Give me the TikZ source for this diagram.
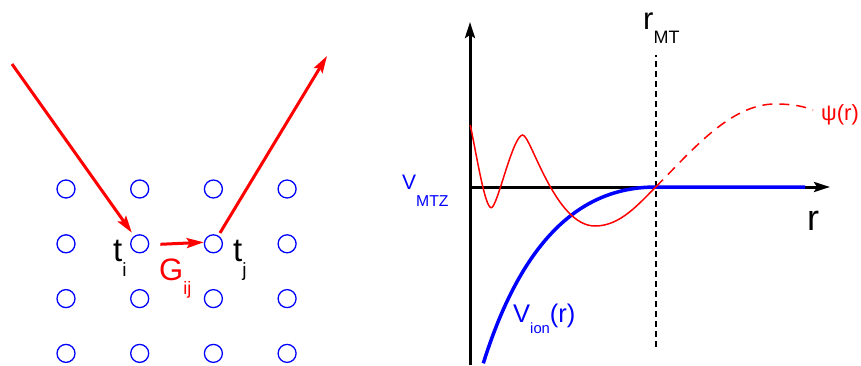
\documentclass[tikz,border=0pt]{standalone}
\usepackage{fontspec}
\setmainfont{Liberation Sans}
\usetikzlibrary{arrows.meta, positioning, calc}
\newcommand{\lowsubx}[3]{\raisebox{-#1}{\scalebox{#2}{#3}}}
\newcommand{\lowsub}[1]{\lowsubx{0.45em}{0.58}{#1}}
\tikzset{
	site/.style    ={circle, draw=blue, line width=1.3pt, minimum size=18pt, inner sep=0pt},
	hop/.style     ={red, line width=3pt, -{Stealth[length=17pt, width=10pt, inset=3pt]}},
	axis/.style    ={black, line width=3pt, -{Stealth[length=16pt, width=10pt, inset=3pt]}},
	pot/.style     ={blue, line width=3.5pt},
	wave/.style    ={red, line width=1.5pt},
	rmt/.style     ={black, line width=1.2pt, dash pattern=on 6pt off 4pt},
	lbl/.style     ={inner sep=0pt, anchor=base west},
}

\begin{document}
\begin{tikzpicture}[x=1pt, y=1pt]
	\useasboundingbox (0,0) rectangle (861,365);
	% lattice of scattering sites
	\foreach \i in {1,...,4}
		\foreach \j in {1,...,4}
			\node[site] (s\i\j) at ({66+73.7*(\i-1)}, {176-54.8*(\j-1)}) {};
	\coordinate (entry) at (12,301);
	\coordinate (exit) at (327,309);
	\draw[hop, shorten >=4pt] (entry) -- (s22);
	\draw[hop, shorten <=11pt] ([yshift=-1pt]s22.east) -- ([yshift=1.5pt]s32.west);
	\draw[hop, shorten <=3pt] (s32) -- (exit);
	\node[lbl, font=\fontsize{33}{33}\selectfont] (ti) at (113,103.3) {t\lowsub{i}};
	\node[lbl, font=\fontsize{33}{33}\selectfont] (tj) at (233,103.3) {t\lowsub{j}};
	\node[lbl, red, font=\fontsize{31}{31}\selectfont] (gij) at (159,84.3) {G\lowsub{ij}};
	% muffin-tin potential and radial function
	\draw[rmt] (656,18) -- (656,310);
	\draw[axis] (470,0) -- (470,343);
	\draw[axis] (470,178) -- (830,178);
	\draw[pot] (483.3,1.7) .. controls (528.3,145.7) and (596,178) .. (656,178) -- (805,178);
	\draw[wave] (470.3,240) .. controls (478.3,200) and (485.3,157.3) .. (491.3,157.3)
		.. controls (497.3,157.3) and (512.7,230) .. (522.7,230)
		.. controls (530.7,230) and (555,139) .. (595,139)
		.. controls (620,139) and (638,160.3) .. (656,178.3);
	\draw[wave, dash pattern=on 10pt off 7pt] (656,178.3) .. controls (691,213.3) and (730,261) .. (775,261)
		.. controls (795,261) and (805,258) .. (813,255);
	\node[lbl, font=\fontsize{31}{31}\selectfont] (rmtlabel) at (643,335.7) {r\lowsub{MT}};
	\node[lbl, font=\fontsize{36}{36}\selectfont] (rlabel) at (807,134.3) {r};
	\node[lbl, blue, font=\fontsize{21}{21}\selectfont] (vmtz) at (402,175.7) {V\lowsubx{17.5pt}{0.75}{MTZ}};
	\node[lbl, blue, font=\fontsize{25.5}{25.5}\selectfont] (vion) at (513,43) {V\lowsub{ion}(r)};
	\node[lbl, red, font=\fontsize{22}{22}\selectfont] (psi) at (821,245) {ψ(r)};
\end{tikzpicture}
\end{document}
